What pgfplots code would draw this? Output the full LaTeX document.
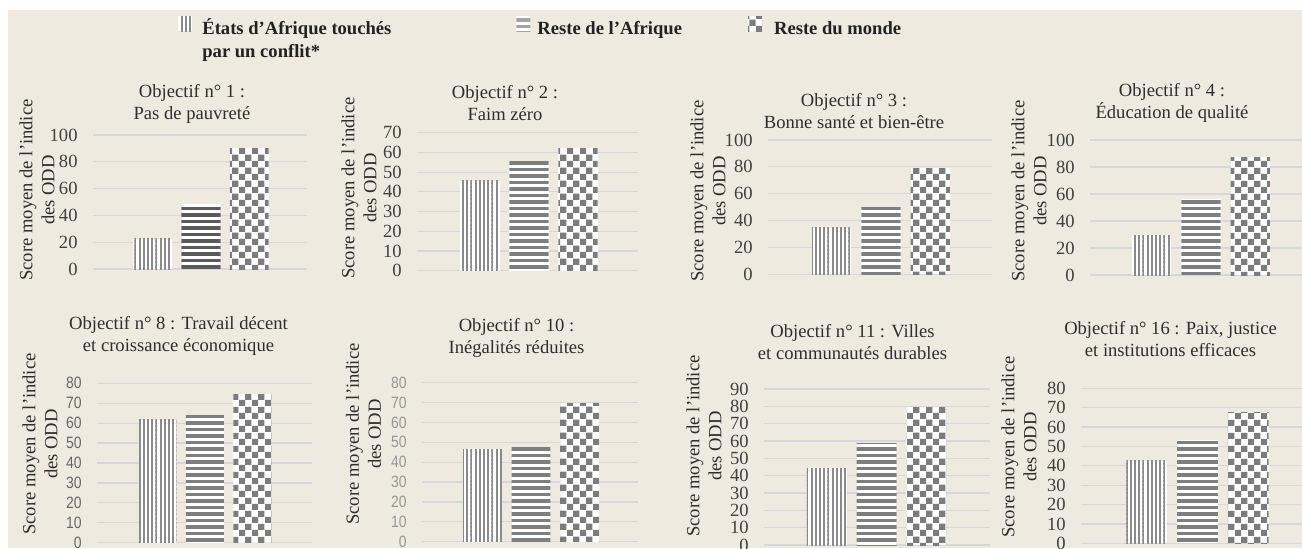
\documentclass[border=0pt]{standalone}
\usepackage{pgfplots}
\pgfplotsset{compat=1.18}
\usetikzlibrary{patterns}
\usepackage{fontspec}
\setmainfont{Liberation Serif}
\newfontfamily\narrowsans[FakeStretch=0.85]{Liberation Sans}

\definecolor{bg}{HTML}{EEEAE0}
\definecolor{gridc}{HTML}{D6D6DC}
\definecolor{tickc}{HTML}{404040}
\definecolor{txtc}{HTML}{2E2E2E}
\definecolor{legc}{HTML}{222222}
\definecolor{vlc}{HTML}{8A8A8A}
\definecolor{hlc}{HTML}{7E7E7E}
\definecolor{hldark}{HTML}{5A5A5A}
\definecolor{hllight}{HTML}{A4A4A4}
\definecolor{ckc}{HTML}{7C7C7C}

% bar fills: thin vertical lines, horizontal bands, checkerboard
% (stripes run past the tile edge so neighbouring tiles join without seams)
\pgfdeclarepatternformonly{vlines}{\pgfqpoint{0pt}{-0.5pt}}{\pgfqpoint{2.1pt}{2.6pt}}{\pgfqpoint{2.1pt}{2.1pt}}%
  {\pgfpathrectangle{\pgfqpoint{0pt}{-0.5pt}}{\pgfqpoint{0.95pt}{3.1pt}}\pgfusepath{fill}}
\pgfdeclarepatternformonly{hlines}{\pgfqpoint{-0.5pt}{0pt}}{\pgfqpoint{3.75pt}{3.25pt}}{\pgfqpoint{3.25pt}{3.25pt}}%
  {\pgfpathrectangle{\pgfqpoint{-0.5pt}{0pt}}{\pgfqpoint{4.25pt}{1.75pt}}\pgfusepath{fill}}
\pgfdeclarepatternformonly{checker}{\pgfqpoint{0pt}{0pt}}{\pgfqpoint{6.3pt}{6.3pt}}{\pgfqpoint{6.3pt}{6.3pt}}%
  {\pgfpathrectangle{\pgfqpoint{0pt}{0pt}}{\pgfqpoint{3.15pt}{3.15pt}}%
   \pgfpathrectangle{\pgfqpoint{3.15pt}{3.15pt}}{\pgfqpoint{3.15pt}{3.15pt}}\pgfusepath{fill}}

\tikzset{
  s1/.style={draw=none, fill=white, postaction={pattern=vlines, pattern color=#1}}, s1/.default=vlc,
  s2/.style={draw=none, fill=white, postaction={pattern=hlines, pattern color=#1}}, s2/.default=hlc,
  s3/.style={draw=none, fill=white, postaction={pattern=checker, pattern color=#1}}, s3/.default=ckc,
  ttl/.style={align=center, text=txtc, font=\fontsize{9.3}{11}\selectfont},
  ylab/.style={align=center, text=txtc, rotate=90, font=\fontsize{9.3}{11}\selectfont},
}

\pgfplotsset{
  panel/.style={
    scale only axis, ybar, bar width=0.8, enlargelimits=false,
    ymin=0, xtick=\empty, ymajorgrids,
    axis line style={draw=none}, major tick length=0pt,
    major grid style={draw=gridc, line width=0.6pt},
    tick label style={font=\fontsize{9.3}{11}\selectfont, text=tickc},
    yticklabel style={inner sep=0pt, xshift=-7.5pt},
    /pgf/number format/assume math mode=true,
    anchor=south west,
    legend image code/.code={\draw[##1,draw=none] (0pt,1.5pt) rectangle (7pt,9pt);},
  },
  sansticks/.style={tick label style={font=\narrowsans\fontsize{8.2}{10}\selectfont, text=#1}},
}

\begin{document}
\begin{tikzpicture}
\path[use as bounding box] (0pt,0pt) rectangle (651pt,-274pt);
\clip (0pt,0pt) rectangle (651pt,-274pt);
\fill[white] (0pt,0pt) rectangle (651pt,-274pt);
\fill[bg] (4pt,-5pt) rectangle (651pt,-274pt);

% Objectif 1 (also carries the shared legend)
\begin{axis}[panel, at={(46.5pt,-134.5pt)}, width=107pt, height=67pt,
  xmin=-2.238, xmax=2.197, ymax=100, ytick={0,20,...,100},
  legend columns=3,
  legend style={draw=none, fill=none, at={(axis description cs:0.369,1.933)}, anchor=north west,
    font=\bfseries\fontsize{9.3}{11.5}\selectfont, text=legc, cells={anchor=base west},
    /tikz/column 1/.append style={column sep=3pt},
    /tikz/column 2/.append style={column sep=60.5pt},
    /tikz/column 3/.append style={column sep=1.5pt},
    /tikz/column 4/.append style={column sep=31pt},
    /tikz/column 5/.append style={column sep=4pt}}]
\addlegendimage{s1}
\addlegendentry{{\begin{tabular}[t]{@{}l@{}}États d’Afrique touchés\\par un conflit*\end{tabular}}}
\addlegendimage{s2=hllight}
\addlegendentry{Reste de l’Afrique}
\addlegendimage{s3}
\addlegendentry{Reste du monde}
\addplot[s1, bar shift=0pt, forget plot] coordinates {(-1,22.5)};
\addplot[s2=hldark, bar shift=0pt, forget plot] coordinates {(0,48.5)};
\addplot[s3, bar shift=0pt, forget plot] coordinates {(1,90)};
\end{axis}

% Objectif 2
\begin{axis}[panel, at={(208.5pt,-135.35pt)}, width=110.5pt, height=69pt,
  xmin=-2.286, xmax=2.224, ymax=70, ytick={0,10,...,70}]
\addplot[s1, bar shift=0pt] coordinates {(-1,45.7)};
\addplot[s2, bar shift=0pt] coordinates {(0,55.6)};
\addplot[s3, bar shift=0pt] coordinates {(1,62.1)};
\end{axis}

% Objectif 3
\begin{axis}[panel, at={(384pt,-137.15pt)}, width=112pt, height=67.15pt,
  xmin=-2.294, xmax=2.254, ymax=100, ytick={0,20,...,100}]
\addplot[s1, bar shift=0pt] coordinates {(-1,34.7)};
\addplot[s2, bar shift=0pt] coordinates {(0,49.6)};
\addplot[s3, bar shift=0pt] coordinates {(1,78.9)};
\end{axis}

% Objectif 4
\begin{axis}[panel, at={(545pt,-137.5pt)}, width=106pt, height=67.5pt,
  xmin=-2.254, xmax=2.05, ymax=100, ytick={0,20,...,100}]
\addplot[s1, bar shift=0pt] coordinates {(-1,29.6)};
\addplot[s2, bar shift=0pt] coordinates {(0,56.5)};
\addplot[s3, bar shift=0pt] coordinates {(1,87.2)};
\end{axis}

% Objectif 8
\begin{axis}[panel, sansticks=tickc!80, at={(48.5pt,-271.35pt)}, width=107.5pt, height=79.7pt,
  xmin=-2.274, xmax=2.253, ymax=80, ytick={0,10,...,80}]
\addplot[s1, bar shift=0pt] coordinates {(-1,61.6)};
\addplot[s2, bar shift=0pt] coordinates {(0,63.6)};
\addplot[s3, bar shift=0pt] coordinates {(1,74.5)};
\end{axis}

% Objectif 10
\begin{axis}[panel, sansticks=tickc!55, at={(211pt,-270.85pt)}, width=108pt, height=79.5pt,
  xmin=-2.247, xmax=2.206, ymax=80, ytick={0,10,...,80}]
\addplot[s1, bar shift=0pt] coordinates {(-1,46.5)};
\addplot[s2, bar shift=0pt] coordinates {(0,47.8)};
\addplot[s3, bar shift=0pt] coordinates {(1,69.6)};
\end{axis}

% Objectif 11
\begin{axis}[panel, at={(382pt,-272.5pt)}, width=113pt, height=78pt,
  xmin=-2.261, xmax=2.281, ymax=90, ytick={0,10,...,90}]
\addplot[s1, bar shift=0pt] coordinates {(-1,44.2)};
\addplot[s2, bar shift=0pt] coordinates {(0,58.3)};
\addplot[s3, bar shift=0pt] coordinates {(1,79.4)};
\end{axis}

% Objectif 16
\begin{axis}[panel, at={(540.5pt,-271.65pt)}, width=110.5pt, height=77.5pt,
  xmin=-2.296, xmax=2.059, ymax=80, ytick={0,10,...,80}]
\addplot[s1, bar shift=0pt] coordinates {(-1,42.5)};
\addplot[s2, bar shift=0pt] coordinates {(0,53.3)};
\addplot[s3, bar shift=0pt] coordinates {(1,67.6)};
\end{axis}

% panel titles
\node[ttl] at (96pt,-51.75pt) {Objectif n° 1 :\\Pas de pauvreté};
\node[ttl] at (252.5pt,-51.4pt) {Objectif n° 2 :\\Faim zéro};
\node[ttl] at (427pt,-55.4pt) {Objectif n° 3 :\\Bonne santé et bien-être};
\node[ttl] at (586pt,-51.25pt) {Objectif n° 4 :\\Éducation de qualité};
\node[ttl] at (89.25pt,-167.9pt) {Objectif n° 8 : Travail décent\\et croissance économique};
\node[ttl] at (258.25pt,-169.15pt) {Objectif n° 10 :\\Inégalités réduites};
\node[ttl] at (426.25pt,-170.85pt) {Objectif n° 11 : Villes\\et communautés durables};
\node[ttl] at (585.25pt,-169.3pt) {Objectif n° 16 : Paix, justice\\et institutions efficaces};

% vertical axis labels
\node[ylab] at (18.5pt,-95pt) {Score moyen de l’indice\\des ODD};
\node[ylab] at (179.5pt,-94pt) {Score moyen de l’indice\\des ODD};
\node[ylab] at (354pt,-95.5pt) {Score moyen de l’indice\\des ODD};
\node[ylab] at (514.5pt,-95.5pt) {Score moyen de l’indice\\des ODD};
\node[ylab] at (20pt,-222pt) {Score moyen de l’indice\\des ODD};
\node[ylab] at (181.75pt,-217pt) {Score moyen de l’indice\\des ODD};
\node[ylab] at (352pt,-223pt) {Score moyen de l’indice\\des ODD};
\node[ylab] at (509.5pt,-223.5pt) {Score moyen de l’indice\\des ODD};
\end{tikzpicture}
\end{document}
